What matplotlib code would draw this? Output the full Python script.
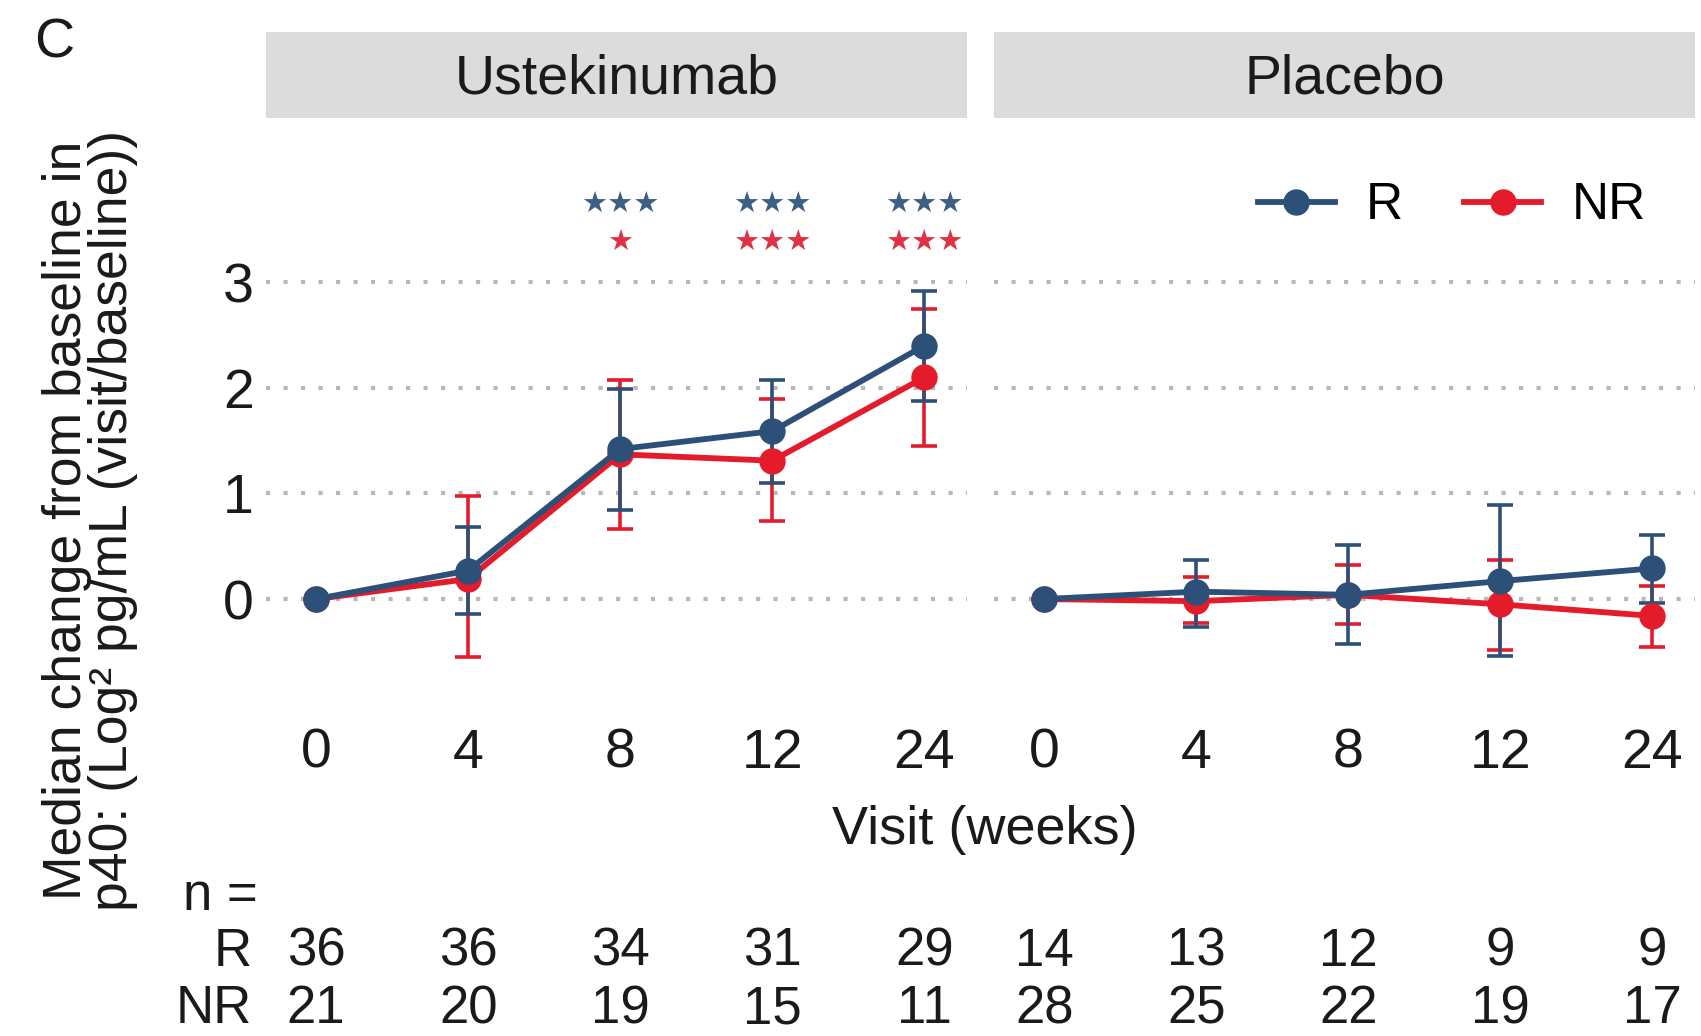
import matplotlib.pyplot as plt
from matplotlib.lines import Line2D
import matplotlib.transforms as mtransforms

plt.rcParams['font.family'] = ['Liberation Sans', 'DejaVu Sans']

visits = ['0', '4', '8', '12', '24']
panels = ['Ustekinumab', 'Placebo']

# medians and error bar ends (week 0 has no bar)
ust_r = [0, 0.27, 1.42, 1.59, 2.40]
ust_r_lo = [None, -0.14, 0.84, 1.10, 1.88]
ust_r_hi = [None, 0.68, 1.99, 2.07, 2.92]
ust_nr = [0, 0.19, 1.37, 1.31, 2.10]
ust_nr_lo = [None, -0.55, 0.66, 0.74, 1.45]
ust_nr_hi = [None, 0.98, 2.07, 1.89, 2.75]

pla_r = [0, 0.07, 0.04, 0.17, 0.29]
pla_r_lo = [None, -0.26, -0.43, -0.54, -0.04]
pla_r_hi = [None, 0.37, 0.51, 0.89, 0.61]
pla_nr = [0, -0.02, 0.04, -0.05, -0.16]
pla_nr_lo = [None, -0.23, -0.24, -0.48, -0.45]
pla_nr_hi = [None, 0.21, 0.32, 0.37, 0.12]

stars_r = ['', '', '***', '***', '***']
stars_nr = ['', '', '*', '***', '***']

n_r = [36, 36, 34, 31, 29, 14, 13, 12, 9, 9]
n_nr = [21, 20, 19, 15, 11, 28, 25, 22, 19, 17]

blue = '#2d5079'
red = '#e31b2b'
star_blue = '#3d5f86'
star_red = '#dd3344'
txt = '#1a1a1a'

W, H = 1701, 1036
fig = plt.figure(figsize=(W / 100, H / 100), dpi=100)


def fx(px):
    return px / W


def fy(px):
    return 1 - px / H


panel_lefts = [266, 994]
panel_w = 701
top, bottom = 118, 715

axes = []
for left, name in zip(panel_lefts, panels):
    ax = fig.add_axes([fx(left), fy(bottom), panel_w / W, (bottom - top) / H])
    ax.set_xlim(-0.33, 4.28)
    ax.set_ylim(-1.098, 4.555)
    for s in ax.spines.values():
        s.set_visible(False)
    ax.set_yticks([0, 1, 2, 3])
    ax.set_xticks(range(len(visits)))
    ax.set_xticklabels(visits)
    ax.tick_params(length=0, labelsize=40, colors=txt, pad=9)
    ax.yaxis.grid(True, color='#b8b8b8', linewidth=3, linestyle=(0, (1.0, 3.2)))
    ax.set_axisbelow(True)
    if left != panel_lefts[0]:
        ax.set_yticklabels([])
    axes.append(ax)

    # strip
    sax = fig.add_axes([fx(left), fy(118), panel_w / W, 86 / H])
    sax.set_facecolor('#dcdcdc')
    sax.set_xticks([])
    sax.set_yticks([])
    for s in sax.spines.values():
        s.set_visible(False)
    sax.text(0.5, 0.45, name, ha='center', va='center', fontsize=40, color=txt,
             transform=sax.transAxes)


def draw(ax, r, r_lo, r_hi, nr, nr_lo, nr_hi):
    x = list(range(len(r)))
    for vals, lo, hi, c in [(nr, nr_lo, nr_hi, red), (r, r_lo, r_hi, blue)]:
        idx = [i for i in x if lo[i] is not None]
        ys = [vals[i] for i in idx]
        err = [[vals[i] - lo[i] for i in idx], [hi[i] - vals[i] for i in idx]]
        ax.errorbar(idx, ys, yerr=err, fmt='none', ecolor=c, elinewidth=2.6,
                    capsize=9.5, capthick=2.6, zorder=3)
    ax.plot(x, nr, color=red, lw=4.2, marker='o', ms=18, zorder=4)
    ax.plot(x, r, color=blue, lw=4.2, marker='o', ms=18, zorder=5)


draw(axes[0], ust_r, ust_r_lo, ust_r_hi, ust_nr, ust_nr_lo, ust_nr_hi)
draw(axes[1], pla_r, pla_r_lo, pla_r_hi, pla_nr, pla_nr_lo, pla_nr_hi)

# significance stars
for i, (sr, snr) in enumerate(zip(stars_r, stars_nr)):
    if sr:
        axes[0].text(i, 3.73, sr.replace('*', '\u2605'), family='DejaVu Sans',
                     fontsize=21, color=star_blue, ha='center', va='center')
    if snr:
        axes[0].text(i, 3.37, snr.replace('*', '\u2605'), family='DejaVu Sans',
                     fontsize=21, color=star_red, ha='center', va='center')

# legend
handles = [Line2D([], [], color=blue, lw=4.2, marker='o', ms=18),
           Line2D([], [], color=red, lw=4.2, marker='o', ms=18)]
fig.legend(handles, ['R', 'NR'], loc='center', ncol=2, frameon=False,
           fontsize=37, handlelength=1.5, handletextpad=0.6, columnspacing=1.2,
           bbox_to_anchor=(fx(1452), fy(206)))

# axis labels
fig.text(fx(985), fy(830), 'Visit (weeks)', ha='center', va='center',
         fontsize=39, color=txt)
fig.text(fx(90), fy(520),
         'Median change from baseline in\np40: (Log\u00b2 pg/mL (visit/baseline))',
         rotation=90, ha='center', va='center', fontsize=38.5, color=txt,
         linespacing=0.92)
fig.text(fx(54), fy(44), 'C', ha='center', va='center', fontsize=40, color=txt)

# n table
fig.text(fx(258), fy(896), 'n =', ha='right', va='center', fontsize=38, color=txt)
fig.text(fx(252), fy(952), 'R', ha='right', va='center', fontsize=38, color=txt)
fig.text(fx(252), fy(1009), 'NR', ha='right', va='center', fontsize=38, color=txt)
for k in range(len(n_r)):
    ax = axes[k // 5]
    tr = mtransforms.blended_transform_factory(ax.transData, fig.transFigure)
    ax.text(k % 5, fy(952), str(n_r[k]), transform=tr, ha='center', va='center',
            fontsize=38, color=txt)
    ax.text(k % 5, fy(1009), str(n_nr[k]), transform=tr, ha='center', va='center',
            fontsize=38, color=txt)

fig.savefig('out.png', dpi=100)
